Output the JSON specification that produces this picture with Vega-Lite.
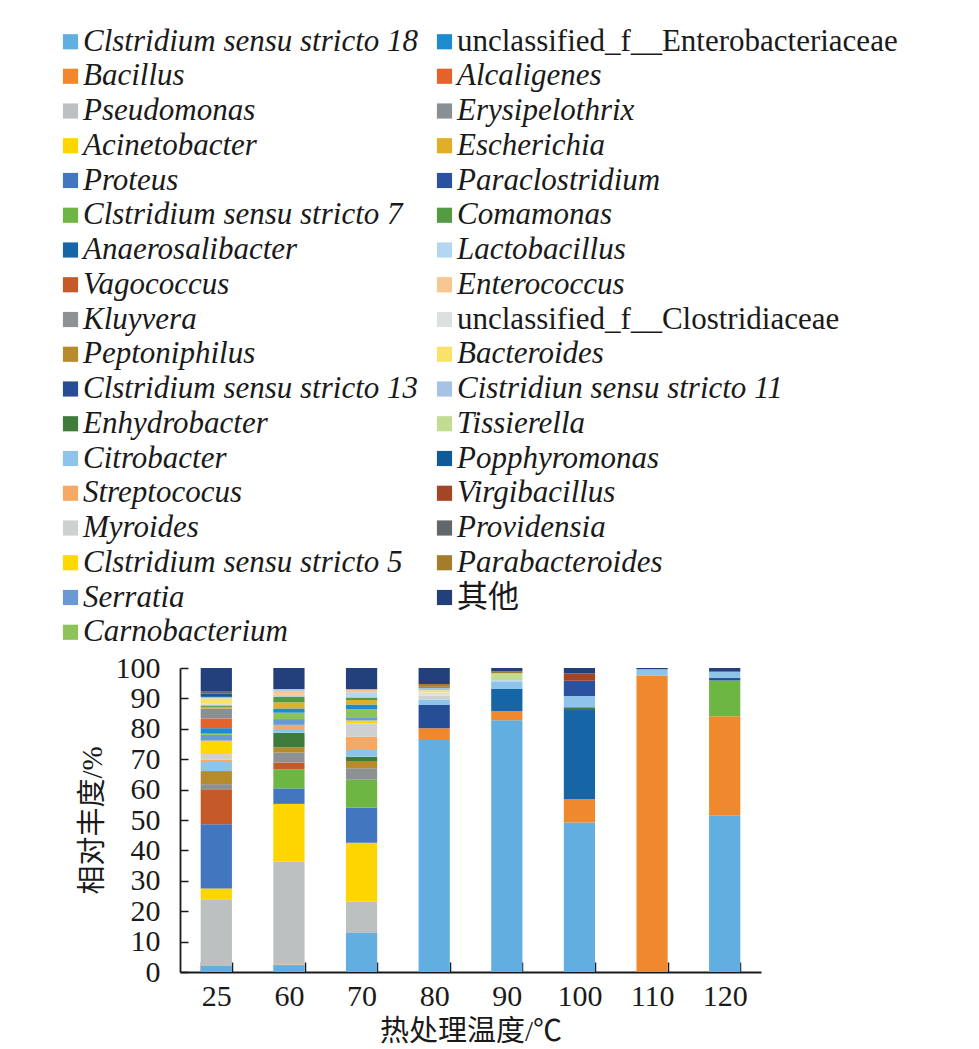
{
  "$schema": "https://vega.github.io/schema/vega-lite/v6.json",
  "width": 581,
  "height": 304,
  "autosize": {"type": "none"},
  "padding": {"left": 180, "top": 668, "right": 218, "bottom": 77},
  "background": "white",
  "config": {"view": {"stroke": null}},
  "datasets": {
    "rows": [
      {"temp": "25", "genus": "Clstridium sensu stricto 18", "o": 1, "value": 2.0},
      {"temp": "25", "genus": "Pseudomonas", "o": 3, "value": 21.9},
      {"temp": "25", "genus": "Acinetobacter", "o": 4, "value": 3.6},
      {"temp": "25", "genus": "Proteus", "o": 5, "value": 21.1},
      {"temp": "25", "genus": "Vagococcus", "o": 8, "value": 11.5},
      {"temp": "25", "genus": "Kluyvera", "o": 9, "value": 1.7},
      {"temp": "25", "genus": "Peptoniphilus", "o": 10, "value": 4.3},
      {"temp": "25", "genus": "Citrobacter", "o": 13, "value": 3.0},
      {"temp": "25", "genus": "Streptococus", "o": 14, "value": 0.7},
      {"temp": "25", "genus": "Myroides", "o": 15, "value": 1.9},
      {"temp": "25", "genus": "Clstridium sensu stricto 5", "o": 16, "value": 4.4},
      {"temp": "25", "genus": "Serratia", "o": 17, "value": 1.9},
      {"temp": "25", "genus": "Carnobacterium", "o": 18, "value": 0.4},
      {"temp": "25", "genus": "unclassified_f__Enterobacteriaceae", "o": 19, "value": 1.8},
      {"temp": "25", "genus": "Alcaligenes", "o": 20, "value": 3.2},
      {"temp": "25", "genus": "Erysipelothrix", "o": 21, "value": 3.3},
      {"temp": "25", "genus": "Escherichia", "o": 22, "value": 0.5},
      {"temp": "25", "genus": "Comamonas", "o": 24, "value": 0.5},
      {"temp": "25", "genus": "unclassified_f__Clostridiaceae", "o": 27, "value": 0.5},
      {"temp": "25", "genus": "Bacteroides", "o": 28, "value": 1.8},
      {"temp": "25", "genus": "Cistridiun sensu stricto 11", "o": 29, "value": 0.5},
      {"temp": "25", "genus": "Popphyromonas", "o": 31, "value": 1.1},
      {"temp": "25", "genus": "Providensia", "o": 33, "value": 0.8},
      {"temp": "25", "genus": "其他", "o": 35, "value": 7.6},

      {"temp": "60", "genus": "Clstridium sensu stricto 18", "o": 1, "value": 2.0},
      {"temp": "60", "genus": "Bacillus", "o": 2, "value": 0.4},
      {"temp": "60", "genus": "Pseudomonas", "o": 3, "value": 33.9},
      {"temp": "60", "genus": "Acinetobacter", "o": 4, "value": 19.0},
      {"temp": "60", "genus": "Proteus", "o": 5, "value": 5.1},
      {"temp": "60", "genus": "Clstridium sensu stricto 7", "o": 6, "value": 6.3},
      {"temp": "60", "genus": "Vagococcus", "o": 8, "value": 2.2},
      {"temp": "60", "genus": "Kluyvera", "o": 9, "value": 3.3},
      {"temp": "60", "genus": "Peptoniphilus", "o": 10, "value": 1.7},
      {"temp": "60", "genus": "Enhydrobacter", "o": 12, "value": 4.8},
      {"temp": "60", "genus": "Citrobacter", "o": 13, "value": 0.9},
      {"temp": "60", "genus": "Streptococus", "o": 14, "value": 1.7},
      {"temp": "60", "genus": "Serratia", "o": 17, "value": 1.9},
      {"temp": "60", "genus": "Carnobacterium", "o": 18, "value": 2.1},
      {"temp": "60", "genus": "unclassified_f__Enterobacteriaceae", "o": 19, "value": 1.4},
      {"temp": "60", "genus": "Escherichia", "o": 22, "value": 2.0},
      {"temp": "60", "genus": "Comamonas", "o": 24, "value": 1.9},
      {"temp": "60", "genus": "Lactobacillus", "o": 25, "value": 0.6},
      {"temp": "60", "genus": "Enterococcus", "o": 26, "value": 1.3},
      {"temp": "60", "genus": "Cistridiun sensu stricto 11", "o": 29, "value": 0.6},
      {"temp": "60", "genus": "其他", "o": 35, "value": 6.9},

      {"temp": "70", "genus": "Clstridium sensu stricto 18", "o": 1, "value": 12.8},
      {"temp": "70", "genus": "Pseudomonas", "o": 3, "value": 10.3},
      {"temp": "70", "genus": "Acinetobacter", "o": 4, "value": 19.4},
      {"temp": "70", "genus": "Proteus", "o": 5, "value": 11.5},
      {"temp": "70", "genus": "Clstridium sensu stricto 7", "o": 6, "value": 9.2},
      {"temp": "70", "genus": "Kluyvera", "o": 9, "value": 3.8},
      {"temp": "70", "genus": "Peptoniphilus", "o": 10, "value": 2.4},
      {"temp": "70", "genus": "Enhydrobacter", "o": 12, "value": 1.4},
      {"temp": "70", "genus": "Citrobacter", "o": 13, "value": 2.2},
      {"temp": "70", "genus": "Streptococus", "o": 14, "value": 4.4},
      {"temp": "70", "genus": "Myroides", "o": 15, "value": 4.4},
      {"temp": "70", "genus": "Clstridium sensu stricto 5", "o": 16, "value": 0.9},
      {"temp": "70", "genus": "Serratia", "o": 17, "value": 1.1},
      {"temp": "70", "genus": "Carnobacterium", "o": 18, "value": 2.6},
      {"temp": "70", "genus": "unclassified_f__Enterobacteriaceae", "o": 19, "value": 1.6},
      {"temp": "70", "genus": "Escherichia", "o": 22, "value": 1.5},
      {"temp": "70", "genus": "Comamonas", "o": 24, "value": 0.8},
      {"temp": "70", "genus": "Lactobacillus", "o": 25, "value": 1.7},
      {"temp": "70", "genus": "Enterococcus", "o": 26, "value": 1.0},
      {"temp": "70", "genus": "其他", "o": 35, "value": 7.0},

      {"temp": "80", "genus": "Clstridium sensu stricto 18", "o": 1, "value": 76.3},
      {"temp": "80", "genus": "Bacillus", "o": 2, "value": 3.9},
      {"temp": "80", "genus": "Clstridium sensu stricto 13", "o": 11, "value": 7.6},
      {"temp": "80", "genus": "Citrobacter", "o": 13, "value": 1.8},
      {"temp": "80", "genus": "Myroides", "o": 15, "value": 1.3},
      {"temp": "80", "genus": "unclassified_f__Clostridiaceae", "o": 27, "value": 1.0},
      {"temp": "80", "genus": "Bacteroides", "o": 28, "value": 0.8},
      {"temp": "80", "genus": "Cistridiun sensu stricto 11", "o": 29, "value": 0.8},
      {"temp": "80", "genus": "Providensia", "o": 33, "value": 0.3},
      {"temp": "80", "genus": "Parabacteroides", "o": 34, "value": 0.9},
      {"temp": "80", "genus": "其他", "o": 35, "value": 5.3},

      {"temp": "90", "genus": "Clstridium sensu stricto 18", "o": 1, "value": 82.8},
      {"temp": "90", "genus": "Bacillus", "o": 2, "value": 3.0},
      {"temp": "90", "genus": "Anaerosalibacter", "o": 7, "value": 7.3},
      {"temp": "90", "genus": "Citrobacter", "o": 13, "value": 2.3},
      {"temp": "90", "genus": "Lactobacillus", "o": 25, "value": 0.6},
      {"temp": "90", "genus": "Tissierella", "o": 30, "value": 2.3},
      {"temp": "90", "genus": "Parabacteroides", "o": 34, "value": 0.6},
      {"temp": "90", "genus": "其他", "o": 35, "value": 1.1},

      {"temp": "100", "genus": "Clstridium sensu stricto 18", "o": 1, "value": 49.2},
      {"temp": "100", "genus": "Bacillus", "o": 2, "value": 7.6},
      {"temp": "100", "genus": "Anaerosalibacter", "o": 7, "value": 29.4},
      {"temp": "100", "genus": "Enhydrobacter", "o": 12, "value": 0.9},
      {"temp": "100", "genus": "Citrobacter", "o": 13, "value": 3.7},
      {"temp": "100", "genus": "Paraclostridium", "o": 23, "value": 5.0},
      {"temp": "100", "genus": "Virgibacillus", "o": 32, "value": 2.4},
      {"temp": "100", "genus": "其他", "o": 35, "value": 1.8},

      {"temp": "110", "genus": "Bacillus", "o": 2, "value": 97.5},
      {"temp": "110", "genus": "Citrobacter", "o": 13, "value": 2.1},
      {"temp": "110", "genus": "其他", "o": 35, "value": 0.4},

      {"temp": "120", "genus": "Clstridium sensu stricto 18", "o": 1, "value": 51.6},
      {"temp": "120", "genus": "Bacillus", "o": 2, "value": 32.5},
      {"temp": "120", "genus": "Clstridium sensu stricto 7", "o": 6, "value": 11.8},
      {"temp": "120", "genus": "Clstridium sensu stricto 13", "o": 11, "value": 0.8},
      {"temp": "120", "genus": "Citrobacter", "o": 13, "value": 2.1},
      {"temp": "120", "genus": "其他", "o": 35, "value": 1.2}
    ]
  },
  "data": {"name": "rows"},
  "mark": {"type": "bar"},
  "encoding": {
    "x": {
      "field": "temp",
      "type": "ordinal",
      "sort": ["25", "60", "70", "80", "90", "100", "110", "120"],
      "scale": {"paddingInner": 0.57, "paddingOuter": 0.285},
      "axis": {
        "title": "热处理温度/℃",
        "labelAngle": 0,
        "tickBand": "extent",
        "labelFont": "Liberation Serif",
        "labelFontSize": 30,
        "labelColor": "#1a1a1a",
        "labelPadding": 19,
        "titleFont": "'Liberation Serif', 'Noto Sans CJK SC'",
        "titleFontSize": 29,
        "titleFontWeight": "normal",
        "titleColor": "#1a1a1a",
        "titlePadding": 6,
        "domainColor": "#1a1a1a",
        "domainWidth": 1.8,
        "tickColor": "#1a1a1a",
        "tickWidth": 1.5,
        "tickSize": -10
      }
    },
    "y": {
      "field": "value",
      "type": "quantitative",
      "stack": "zero",
      "scale": {"domain": [0, 100], "nice": false},
      "axis": {
        "title": "相对丰度/%",
        "values": [0, 10, 20, 30, 40, 50, 60, 70, 80, 90, 100],
        "grid": false,
        "labelFont": "Liberation Serif",
        "labelFontSize": 30,
        "labelColor": "#1a1a1a",
        "labelPadding": 28,
        "titleFont": "'Liberation Serif', 'Noto Sans CJK SC'",
        "titleFontSize": 29,
        "titleFontWeight": "normal",
        "titleColor": "#1a1a1a",
        "titlePadding": 8,
        "domainColor": "#1a1a1a",
        "domainWidth": 1.8,
        "tickColor": "#1a1a1a",
        "tickWidth": 1.5,
        "tickSize": -8
      }
    },
    "order": {"field": "o", "type": "quantitative", "sort": "ascending"},
    "color": {
      "field": "genus",
      "type": "nominal",
      "scale": {
        "domain": [
          "Clstridium sensu stricto 18", "Bacillus", "Pseudomonas", "Acinetobacter",
          "Proteus", "Clstridium sensu stricto 7", "Anaerosalibacter", "Vagococcus",
          "Kluyvera", "Peptoniphilus", "Clstridium sensu stricto 13", "Enhydrobacter",
          "Citrobacter", "Streptococus", "Myroides", "Clstridium sensu stricto 5",
          "Serratia", "Carnobacterium",
          "unclassified_f__Enterobacteriaceae", "Alcaligenes", "Erysipelothrix", "Escherichia",
          "Paraclostridium", "Comamonas", "Lactobacillus", "Enterococcus",
          "unclassified_f__Clostridiaceae", "Bacteroides", "Cistridiun sensu stricto 11", "Tissierella",
          "Popphyromonas", "Virgibacillus", "Providensia", "Parabacteroides", "其他"
        ],
        "range": [
          "#62AEE0", "#F0892E", "#BDC0C1", "#FFD500",
          "#4277BF", "#6DB644", "#1565A7", "#C55A28",
          "#8E9193", "#B58B2C", "#264E97", "#3F7C3C",
          "#8FC4EA", "#F6A964", "#CFD1D1", "#FFD800",
          "#6A9AD3", "#8DC459",
          "#1E8AD0", "#E5632A", "#8A8F94", "#E0AE27",
          "#2A52A0", "#539A42", "#B5D6F0", "#F8C690",
          "#DEDFE0", "#F8E26A", "#A6C3E6", "#C2DD92",
          "#115A99", "#A64525", "#646769", "#A37D2C", "#233F7C"
        ]
      },
      "legend": {
        "title": null,
        "orient": "none",
        "legendX": -125,
        "legendY": -642,
        "columns": 2,
        "columnPadding": 10,
        "rowPadding": 2.75,
        "symbolLimit": 0,
        "symbolType": "square",
        "symbolSize": 230,
        "symbolStrokeWidth": 0,
        "labelFont": "'Liberation Serif', 'Noto Sans CJK SC'",
        "labelFontSize": 31,
        "labelColor": "#1a1a1a",
        "labelOffset": -3,
        "labelLimit": 0,
        "encode": {
          "labels": {
            "update": {
              "fontStyle": {"signal": "test(/^(unclassified|其他)/, datum.label) ? 'normal' : 'italic'"}
            }
          }
        }
      }
    }
  }
}
